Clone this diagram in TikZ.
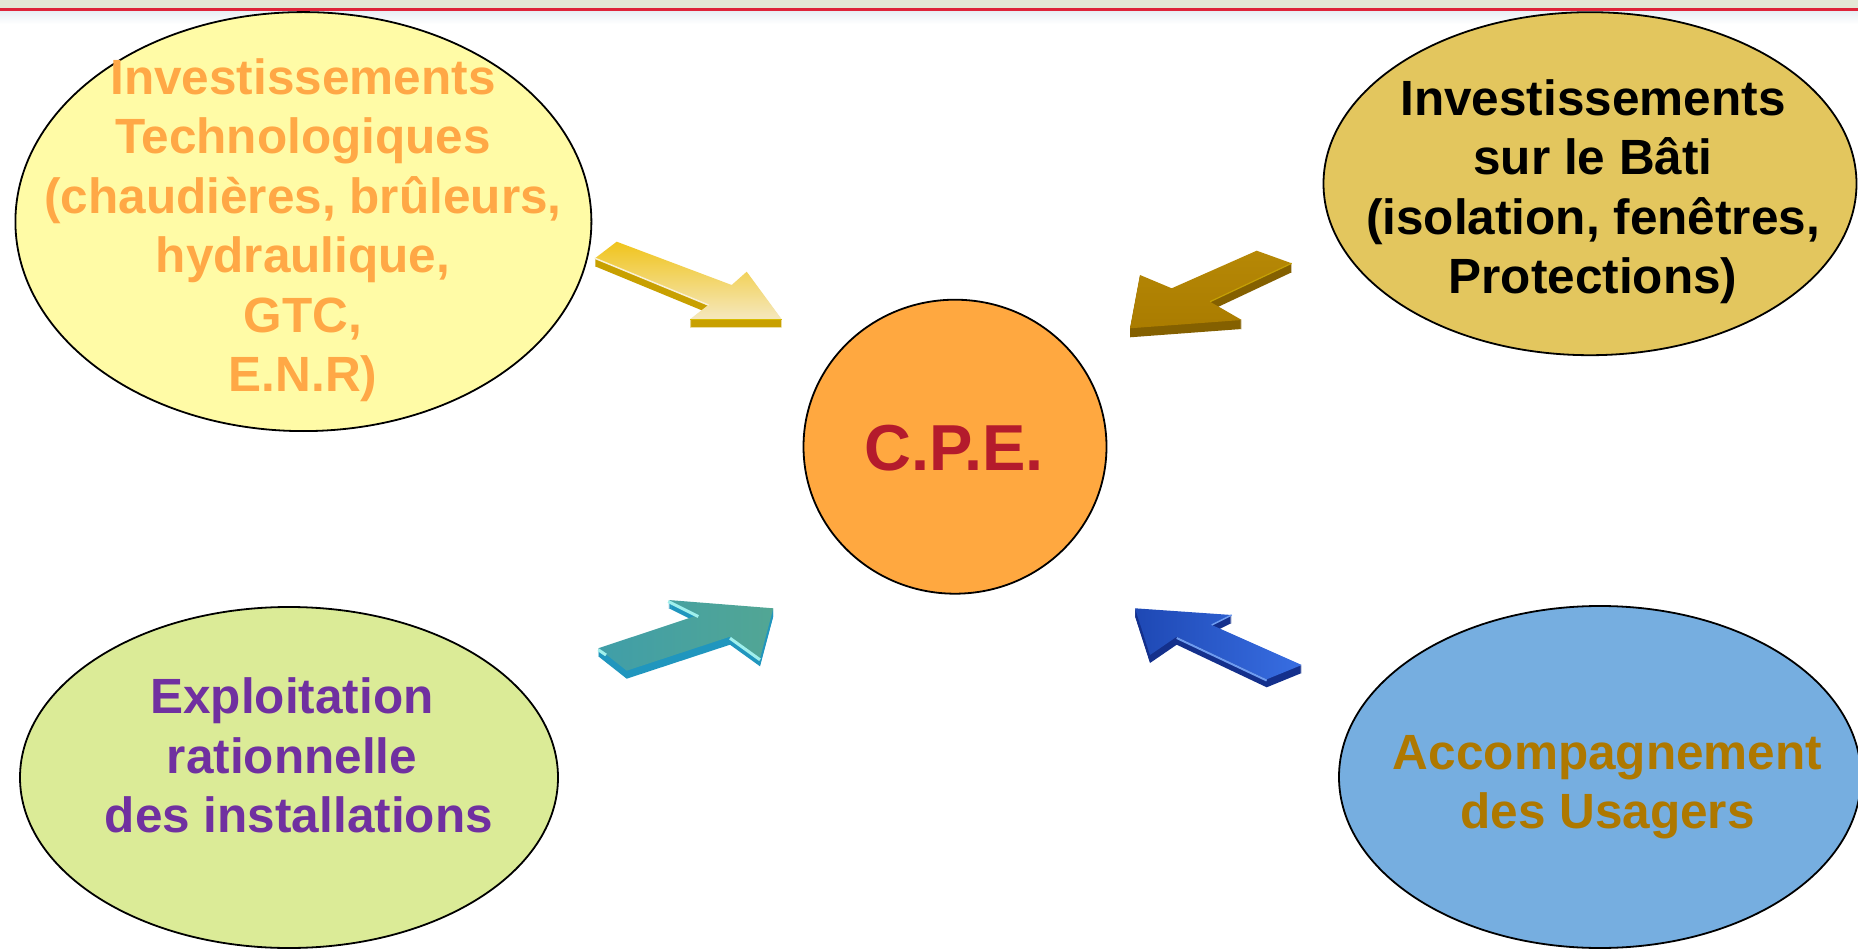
\documentclass[tikz,border=0pt]{standalone}
\usepackage{fontspec}
\setmainfont{Liberation Sans}
\usetikzlibrary{shapes.geometric}
\definecolor{hdrband}{RGB}{228,232,214}
\definecolor{hdrred}{RGB}{222,36,58}
\definecolor{hdrfade}{RGB}{232,238,244}
\definecolor{yellowfill}{RGB}{255,251,166}
\definecolor{goldfill}{RGB}{227,198,94}
\definecolor{orangefill}{RGB}{255,168,64}
\definecolor{greenfill}{RGB}{219,235,151}
\definecolor{bluefill}{RGB}{118,174,224}
\definecolor{orangetxt}{RGB}{255,168,70}
\definecolor{cpetxt}{RGB}{180,27,44}
\definecolor{purpletxt}{RGB}{112,48,160}
\definecolor{browntxt}{RGB}{174,120,0}
\definecolor{yA}{RGB}{240,196,28}
\definecolor{yB}{RGB}{245,232,190}
\definecolor{ySide}{RGB}{200,160,0}
\definecolor{gA}{RGB}{182,136,6}
\definecolor{gB}{RGB}{170,124,0}
\definecolor{gSide}{RGB}{132,96,0}
\definecolor{tA}{RGB}{64,158,168}
\definecolor{tB}{RGB}{82,166,148}
\definecolor{tSide}{RGB}{32,150,190}
\definecolor{tHi}{RGB}{160,240,236}
\definecolor{bA}{RGB}{30,72,180}
\definecolor{bB}{RGB}{56,110,226}
\definecolor{bSide}{RGB}{20,48,140}
\definecolor{bHi}{RGB}{110,156,240}
\begin{document}
\begin{tikzpicture}[x=1pt,y=-1pt,
  ell/.style={ellipse, draw=black, line width=1.8pt, inner sep=0pt, outer sep=0pt},
  lbl/.style={align=center, inner sep=0pt, font={\bfseries\fontsize{49.5}{59.5}\selectfont}},
  pathYellow/.style={insert path={(616.7,241.7) -- (731.7,285) -- (746.7,271.7) -- (781.7,319.3) -- (690,319.3) -- (708.3,305) -- (595,258.3) -- cycle}},
  pathGold/.style={insert path={(1256.7,250.7) -- (1291.7,263.3) -- (1210,301.7) -- (1241.7,320) -- (1130,328.3) -- (1140,275) -- (1171.7,288.3) -- cycle}},
  pathTeal/.style={insert path={(598.3,648.3) -- (698.3,615) -- (668.3,600) -- (773.3,608.3) -- (760,658.3) -- (730,636.7) -- (626.7,670.7) -- cycle}},
  pathBlue/.style={insert path={(1135,608.3) -- (1231.7,615) -- (1211.7,625) -- (1301.7,665) -- (1266.7,679.3) -- (1176.7,636.7) -- (1150,655) -- cycle}}
]
\useasboundingbox (0,0) rectangle (1858,949);
\clip (0,0) rectangle (1858,949);
\fill[white] (0,0) rectangle (1858,949);
% header
\fill[hdrband] (0,0) rectangle (1858,8.5);
\shade[top color=hdrfade, bottom color=white] (0,11) rectangle (1858,24);
\fill[hdrred] (0,8) rectangle (1858,11.5);
% ellipses
\node[ell, fill=yellowfill, minimum width=576pt, minimum height=419pt] (tech) at (303.4,221.6) {};
\node[ell, fill=goldfill, minimum width=533pt, minimum height=343pt] (bati) at (1590,183.7) {};
\node[ell, fill=orangefill, minimum width=303pt, minimum height=294pt] (cpe) at (955,446.7) {};
\node[ell, fill=greenfill, minimum width=538pt, minimum height=341pt] (expl) at (289,777.5) {};
\node[ell, fill=bluefill, minimum width=522pt, minimum height=342pt] (usag) at (1600,777) {};
% texts
\node[lbl, text=orangetxt] (techtxt) at (303,230) {Investissements\\Technologiques\\(chaudières, brûleurs,\\hydraulique,\\GTC,\\E.N.R)};
\node[lbl, text=black] (batitxt) at (1593,191.5) {Investissements\\sur le Bâti\\(isolation, fenêtres,\\Protections)};
\node[lbl, text=purpletxt] (expltxt) at (292,755.5) {Exploitation\\rationnelle\\\hspace*{0.278em}des installations};
\node[lbl, text=browntxt] (usagtxt) at (1607.5,787) {Accompagnement\\des Usagers};
\node[inner sep=0pt, text=cpetxt, font={\bfseries\fontsize{65}{78}\selectfont}] (cpetxt) at (954,448) {C.P.E.};
% yellow arrow
\foreach \d in {1,...,8}{\fill[ySide, yshift=-\d pt, pathYellow];}
\shade[top color=yA, bottom color=yB, pathYellow];
\draw[yB!60!white, line width=1.5pt, line cap=round] (595,258.3) -- (708.3,305);
\draw[ySide!70!yellow, line width=0.8pt] (690,319.3) -- (781.7,319.3);
% gold arrow
\foreach \d in {1,...,9}{\fill[gSide, yshift=-\d pt, pathGold];}
\shade[top color=gA, bottom color=gB, pathGold];
\draw[gA!80!yellow, line width=1.2pt] (1291.7,263.3) -- (1210,301.7);
% teal arrow
\foreach \d in {1,...,8}{\fill[tSide, yshift=-\d pt, pathTeal];}
\shade[left color=tA, right color=tB, pathTeal];
\draw[tHi, line width=3pt] (668.3,601.5) -- (698.3,616.5);
\draw[tHi, line width=3pt] (730,638.2) -- (760,659.8);
\draw[tHi, line width=3pt] (598.3,649.8) -- (606,655);
% blue arrow
\foreach \d in {1,...,8}{\fill[bSide, yshift=-\d pt, pathBlue];}
\shade[left color=bA, right color=bB, pathBlue];
\draw[bHi, line width=2pt] (1176.7,638) -- (1266.7,680.5);
\draw[bHi, line width=1.5pt] (1211.7,625) -- (1231.7,615);
\end{tikzpicture}
\end{document}
